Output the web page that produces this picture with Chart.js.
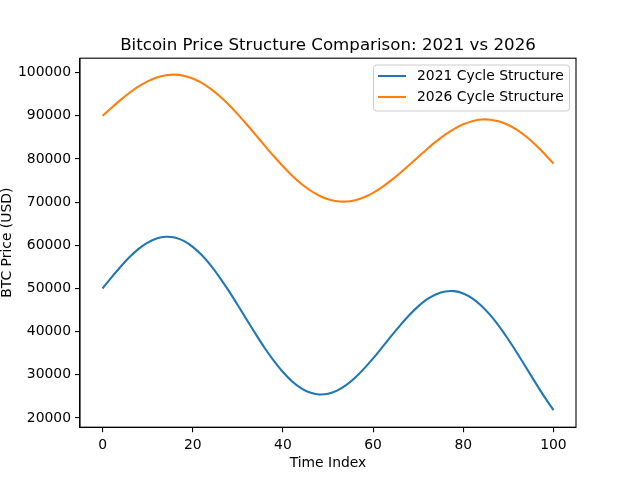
<!DOCTYPE html>
<html>
<head>
<meta charset="utf-8">
<script src="https://cdn.jsdelivr.net/npm/chart.js@4/dist/chart.umd.min.js"></script>
<style>
html,body{margin:0;padding:0;background:#fff;}
canvas{display:block;}
</style>
</head>
<body>
<canvas id="c" width="640" height="480"></canvas>
<script>
const chartTitle = "Bitcoin Price Structure Comparison: 2021 vs 2026";
const xLabel = "Time Index";
const yLabel = "BTC Price (USD)";
const seriesNames = ["2021 Cycle Structure", "2026 Cycle Structure"];
const seriesColors = ["#1f77b4", "#ff7f0e"];
const xTicks = [0, 20, 40, 60, 80, 100];
const yTicks = [20000, 30000, 40000, 50000, 60000, 70000, 80000, 90000, 100000];

const timeIndex = [0,2,4,6,8,10,12,14,16,18,20,22,24,26,28,30,32,34,36,38,40,42,44,46,48,50,
  52,54,56,58,60,62,64,66,68,70,72,74,76,78,80,82,84,86,88,90,92,94,96,98,100];

const cycle2021 = [50000,52580,55040,57270,59160,60620,61580,61980,61790,61010,59640,57730,55330,
  52530,49430,46120,42720,39370,36160,33220,30650,28530,26930,25890,25460,25620,26350,27610,29330,
  31430,33810,36350,38950,41470,43810,45860,47510,48680,49320,49380,48840,47710,46020,43820,41170,
  38180,34940,31570,28190,24900,21840];

const cycle2026 = [90000,91870,93670,95330,96780,97970,98840,99370,99520,99270,98640,97610,96230,
  94520,92540,90330,87970,85510,83030,80610,78300,76190,74320,72750,71520,70670,70200,70130,70450,
  71130,72160,73470,75020,76750,78590,80470,82310,84060,85630,86970,88030,88750,89120,89090,88670,
  87860,86680,85140,83310,81220,78930];

const FONT = "'DejaVu Sans', sans-serif";

const decor = {
  id: 'decor',
  afterDraw(chart) {
    const ctx = chart.ctx;
    const a = chart.chartArea;
    ctx.save();
    // spines
    ctx.strokeStyle = '#000';
    ctx.lineWidth = 1.1;
    ctx.strokeRect(a.left, a.top, a.right - a.left, a.bottom - a.top);
    // title
    ctx.fillStyle = '#000';
    ctx.font = "16.67px " + FONT;
    ctx.textAlign = 'center';
    ctx.textBaseline = 'alphabetic';
    ctx.fillText(chartTitle, (a.left + a.right) / 2, a.top - 8.6);
    // legend
    const bx = 373.5, by = 65, bw = 196, bh = 46, r = 3;
    ctx.beginPath();
    ctx.roundRect(bx, by, bw, bh, r);
    ctx.fillStyle = 'rgba(255,255,255,0.8)';
    ctx.fill();
    ctx.strokeStyle = '#cccccc';
    ctx.lineWidth = 1;
    ctx.stroke();
    ctx.font = "13.9px " + FONT;
    ctx.textAlign = 'left';
    ctx.textBaseline = 'middle';
    chart.data.datasets.forEach((ds, i) => {
      const cy = 76 + i * 21;
      ctx.beginPath();
      ctx.strokeStyle = ds.borderColor;
      ctx.lineWidth = 2.08;
      ctx.moveTo(378, cy);
      ctx.lineTo(406, cy);
      ctx.stroke();
      ctx.fillStyle = '#000';
      ctx.fillText(ds.label, 417, cy + 0.5);
    });
    ctx.restore();
  }
};

const mkData = (ys) => timeIndex.map((t, i) => ({ x: t, y: ys[i] }));

new Chart(document.getElementById('c'), {
  type: 'line',
  data: {
    datasets: [
      { label: seriesNames[0], data: mkData(cycle2021), borderColor: seriesColors[0], backgroundColor: seriesColors[0],
        borderWidth: 2.08, pointRadius: 0, tension: 0.3, fill: false },
      { label: seriesNames[1], data: mkData(cycle2026), borderColor: seriesColors[1], backgroundColor: seriesColors[1],
        borderWidth: 2.08, pointRadius: 0, tension: 0.3, fill: false }
    ]
  },
  options: {
    responsive: false,
    animation: false,
    devicePixelRatio: 1,
    layout: { padding: { top: 58.2, right: 64, left: 0, bottom: 0 } },
    plugins: { legend: { display: false }, title: { display: false }, tooltip: { enabled: false } },
    scales: {
      x: {
        type: 'linear',
        min: -5, max: 105,
        afterFit(s) { s.height = 52.8; },
        afterBuildTicks(s) { s.ticks = xTicks.map(v => ({ value: v })); },
        ticks: { color: '#000', font: { family: FONT, size: 13.9 }, padding: 5, maxRotation: 0,
          callback: (v) => String(v) },
        grid: { drawOnChartArea: false, drawTicks: true, tickLength: 5, color: '#000', lineWidth: 1.1 },
        border: { display: true, color: '#000', width: 1.1 },
        title: { display: true, text: xLabel, color: '#000', font: { family: FONT, size: 13.9 },
          padding: { top: 0, bottom: 8 } }
      },
      y: {
        type: 'linear',
        min: 17873, max: 103329,
        afterFit(s) { s.width = 80; },
        afterBuildTicks(s) { s.ticks = yTicks.map(v => ({ value: v })); },
        ticks: { color: '#000', font: { family: FONT, size: 13.9 }, padding: 4,
          callback: (v) => String(v) },
        grid: { drawOnChartArea: false, drawTicks: true, tickLength: 5, color: '#000', lineWidth: 1.1 },
        border: { display: true, color: '#000', width: 1.1 },
        title: { display: true, text: yLabel, color: '#000', font: { family: FONT, size: 13.9, lineHeight: 1.0 },
          padding: { top: 0, bottom: 0 } }
      }
    }
  },
  plugins: [decor]
});
</script>
</body>
</html>
